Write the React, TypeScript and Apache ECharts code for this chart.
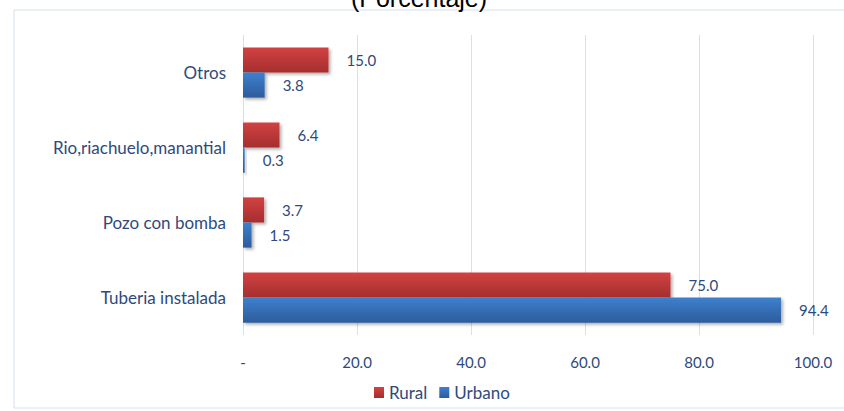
import React, { useEffect, useRef } from "react";
import * as echarts from "echarts";

const categories = ["Tuberia instalada", "Pozo con bomba", "Rio,riachuelo,manantial", "Otros"];
const rural = [75.0, 3.7, 6.4, 15.0];
const urbano = [94.4, 1.5, 0.3, 3.8];
const titleText = "(Porcentaje)";
const seriesNames = ["Rural", "Urbano"];

const textColor = "#2E4A7D";
const font = "Lato";

function grad(top: string, bottom: string) {
  return new echarts.graphic.LinearGradient(0, 0, 0, 1, [
    { offset: 0, color: top },
    { offset: 1, color: bottom },
  ]);
}

export default function App() {
  const ref = useRef<HTMLDivElement>(null);
  useEffect(() => {
    const chart = echarts.init(ref.current!, undefined, { renderer: "svg" });
    const label = {
      show: true,
      position: "right" as const,
      distance: 18,
      color: textColor,
      fontFamily: font,
      fontSize: 15,
      formatter: (p: any) => Number(p.value).toFixed(1),
    };
    const shadow = {
      shadowBlur: 3,
      shadowOffsetX: 2,
      shadowOffsetY: 2,
      shadowColor: "rgba(0,0,0,0.3)",
    };
    chart.setOption({
      animation: false,
      title: {
        text: titleText,
        left: 414,
        textAlign: "center",
        top: -20,
        textStyle: { fontFamily: "Liberation Sans", fontWeight: "normal", fontSize: 25, color: "#000" },
      },
      graphic: [
        {
          type: "rect",
          shape: { x: 14, y: 10, width: 840, height: 398 },
          style: { fill: "none", stroke: "#D5E0F0", lineWidth: 1 },
          silent: true,
        },
      ],
      legend: {
        data: seriesNames,
        top: 379,
        left: 369,
        itemWidth: 10,
        itemHeight: 11,
        itemGap: 12,
        icon: "rect",
        textStyle: { color: textColor, fontFamily: font, fontSize: 17 },
      },
      grid: { left: 243, right: 31, top: 35, bottom: 76, containLabel: false },
      xAxis: {
        type: "value",
        min: 0,
        max: 100,
        interval: 20,
        axisLine: { show: false },
        axisTick: { show: false },
        splitLine: { show: true, lineStyle: { color: "#D5E0F0", width: 1 } },
        axisLabel: {
          color: textColor,
          fontFamily: font,
          fontSize: 15,
          margin: 19,
          formatter: (v: number) => (v === 0 ? "-" : v.toFixed(1)),
        },
      },
      yAxis: {
        type: "category",
        data: categories,
        axisLine: { show: false },
        axisTick: { show: false },
        axisLabel: { color: textColor, fontFamily: font, fontSize: 17, margin: 17 },
      },
      series: [
        {
          name: "Rural",
          type: "bar",
          data: rural,
          barGap: "0%",
          barCategoryGap: "33%",
          itemStyle: { color: grad("#D24242", "#A52E2E"), ...shadow },
          label,
        },
        {
          name: "Urbano",
          type: "bar",
          data: urbano,
          barGap: "0%",
          barCategoryGap: "33%",
          itemStyle: { color: grad("#3D80CE", "#2D5C9C"), ...shadow },
          label,
        },
      ],
    });
    return () => chart.dispose();
  }, []);
  return (
    <div
      ref={ref}
      style={{ position: "fixed", left: 0, top: 0, width: 844, height: 411, background: "#fff" }}
    />
  );
}
